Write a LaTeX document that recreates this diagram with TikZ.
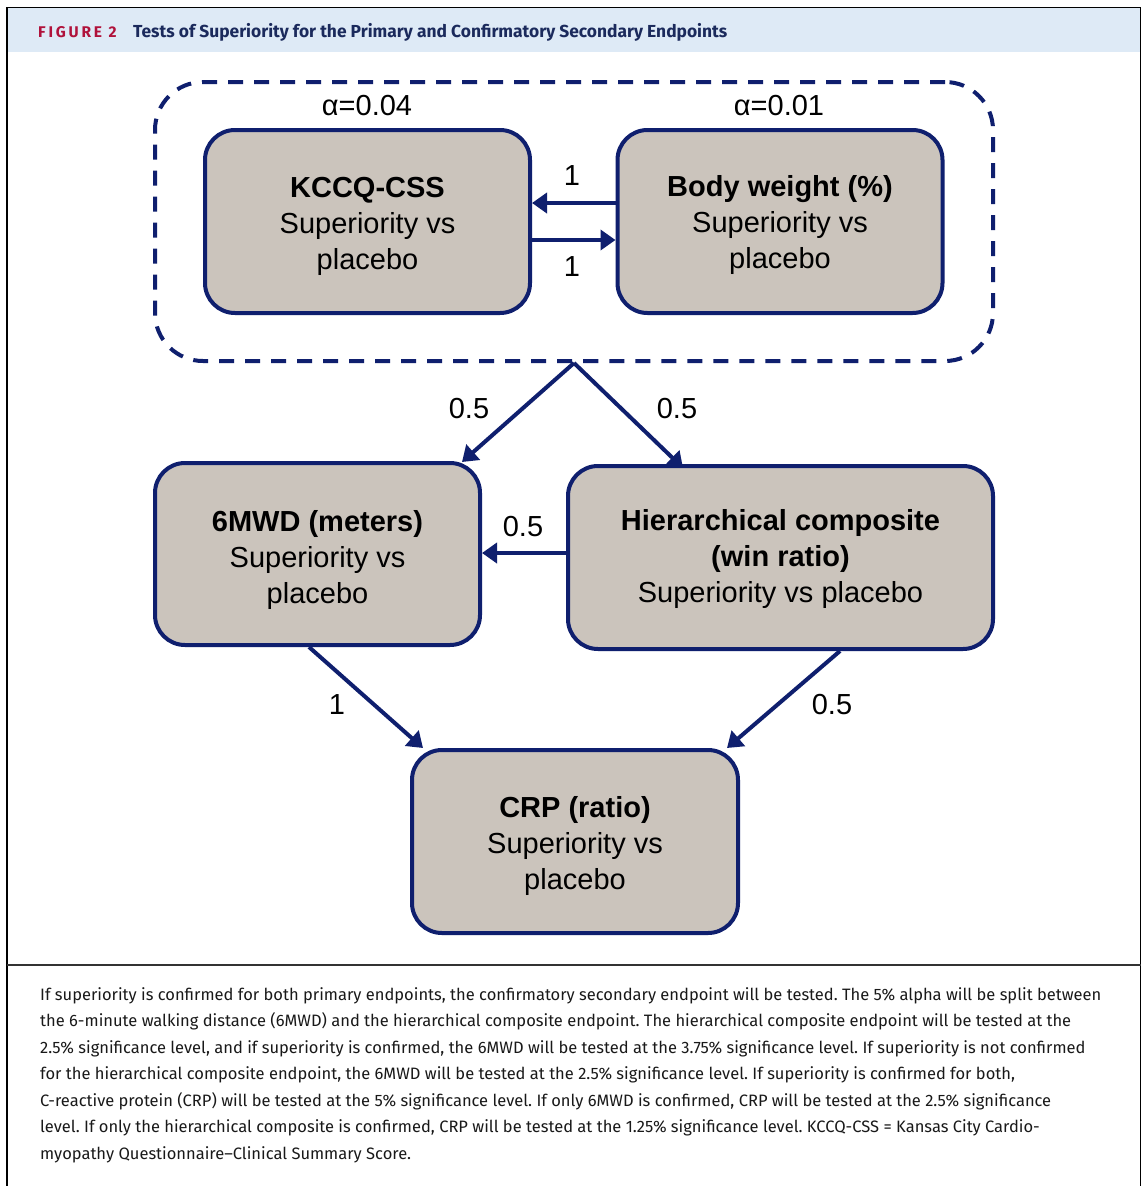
\documentclass[tikz,border=0pt]{standalone}
\usepackage{fontspec}
\setmainfont{Liberation Sans}
\newfontfamily\capfont{Fira Sans}
\usetikzlibrary{arrows.meta}
\definecolor{navy}{HTML}{0F1F6E}
\definecolor{boxfill}{HTML}{CBC4BC}
\definecolor{hdrblue}{HTML}{DEEAF6}
\definecolor{figred}{HTML}{B0123B}
\definecolor{titlenavy}{HTML}{1B2A5C}
\newcommand{\toppad}[1]{\rule{0pt}{#1pt}}
\begin{document}
\begin{tikzpicture}[x=1pt,y=-1pt,
  ep/.style={draw=navy, line width=4pt, fill=boxfill, rounded corners=30pt,
    minimum width=325pt, minimum height=183pt, align=center,
    font=\fontsize{29}{36}\selectfont, inner sep=0pt},
  arr/.style={draw=navy, line width=4pt, -{Triangle[length=15pt,width=20pt]}},
  lbl/.style={font=\fontsize{29}{36}\selectfont, inner sep=0pt},
  captxt/.style={anchor=base west, inner sep=0pt, font=\capfont\fontsize{16.5}{26}\selectfont\frenchspacing, text=black!90}]
% canvas
\fill[white] (0,0) rectangle (1142,1186);
\useasboundingbox (0,0) rectangle (1142,1186);
% header band and frame
\fill[hdrblue] (7,8) rectangle (1141,52);
\draw[black, line width=1.5pt] (7,1186) -- (7,7.5) -- (1140.5,7.5) -- (1140.5,1186);
\draw[black!80, line width=1.2pt] (7,965) -- (1140.5,965);
\node[anchor=base west, inner sep=0pt, text=figred, font=\capfont\bfseries\fontsize{15.5}{15}\selectfont\addfontfeature{LetterSpace=18}] (fig) at (38,37) {FIGURE 2};
\node[anchor=base west, inner sep=0pt, text=titlenavy, font=\capfont\bfseries\fontsize{17.4}{15}\selectfont] (title) at (133,37) {Tests of Superiority for the Primary and Confirmatory Secondary Endpoints};
% group
\node[draw=navy, line width=4pt, dash pattern=on 15pt off 11pt, rounded corners=48pt,
  minimum width=838pt, minimum height=279pt, inner sep=0pt] (grp) at (574,221.5) {};
\node[lbl] (a1) at (367,106) {α=0.04};
\node[lbl] (a2) at (779,106) {α=0.01};
% boxes
\node[ep] (kccq) at (367.5,221.5) {\toppad{30}\textbf{KCCQ-CSS}\\Superiority vs\\placebo};
\node[ep] (body) at (780,221.5) {\toppad{28}\textbf{Body weight (\%)}\\Superiority vs\\placebo};
\node[ep, minimum height=182pt] (mwd) at (317.5,554) {\toppad{33}\textbf{6MWD (meters)}\\Superiority vs\\placebo};
\node[ep, minimum width=425pt] (hier) at (780.5,557.5) {\toppad{25}\textbf{Hierarchical composite}\\\textbf{(win ratio)}\\Superiority vs placebo};
\node[ep, minimum width=326pt] (crp) at (575,841.5) {\toppad{29}\textbf{CRP (ratio)}\\Superiority vs\\placebo};
% arrows
\draw[arr] (body.west |- 0,203) -- (kccq.east |- 0,203);
\draw[arr] (kccq.east |- 0,240) -- (body.west |- 0,240);
\node[lbl] (l1) at (572,176) {1};
\node[lbl] (l2) at (572,267) {1};
\draw[arr] (grp.south) -- ([xshift=144.5pt,yshift=-1pt]mwd.north);
\draw[arr] (grp.south) -- ([xshift=-97.5pt,yshift=-4pt]hier.north);
\node[lbl] (l3) at (469,409) {0.5};
\node[lbl] (l4) at (677,409) {0.5};
\draw[arr] (hier.west |- 0,553) -- (mwd.east |- 0,553);
\node[lbl] (l5) at (523,527) {0.5};
\draw[arr] ([xshift=-8.5pt]mwd.south) -- ([xshift=-152pt]crp.north);
\draw[arr] ([xshift=59.5pt]hier.south) -- ([xshift=152pt]crp.north);
\node[lbl] (l6) at (337,705) {1};
\node[lbl] (l7) at (832,705) {0.5};
% caption
\node[captxt] (c1) at (40,1000) {If superiority is confirmed for both primary endpoints, the confirmatory secondary endpoint will be tested. The 5\% alpha will be split between};
\node[captxt] (c2) at (40,1026.5) {the 6-minute walking distance (6MWD) and the hierarchical composite endpoint. The hierarchical composite endpoint will be tested at the};
\node[captxt] (c3) at (40,1053) {2.5\% significance level, and if superiority is confirmed, the 6MWD will be tested at the 3.75\% significance level. If superiority is not confirmed};
\node[captxt] (c4) at (40,1079.5) {for the hierarchical composite endpoint, the 6MWD will be tested at the 2.5\% significance level. If superiority is confirmed for both,};
\node[captxt] (c5) at (40,1106) {C-reactive protein (CRP) will be tested at the 5\% significance level. If only 6MWD is confirmed, CRP will be tested at the 2.5\% significance};
\node[captxt] (c6) at (40,1132.5) {level. If only the hierarchical composite is confirmed, CRP will be tested at the 1.25\% significance level. KCCQ-CSS = Kansas City Cardio-};
\node[captxt] (c7) at (40,1159) {myopathy Questionnaire–Clinical Summary Score.};
\end{tikzpicture}
\end{document}
